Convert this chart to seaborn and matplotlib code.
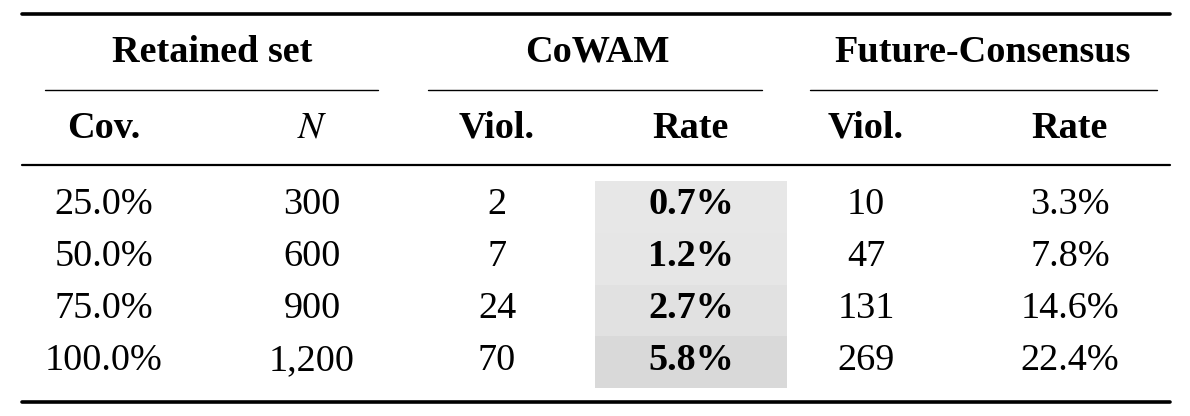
import matplotlib
matplotlib.use("Agg")
import matplotlib.pyplot as plt
import seaborn as sns
from matplotlib.patches import Rectangle

sns.set_theme(style="white")
plt.rcParams['font.family'] = ['Liberation Serif', 'DejaVu Serif']
plt.rcParams['mathtext.fontset'] = 'stix'
plt.rcParams['text.color'] = 'black'

coverage = ["25.0%", "50.0%", "75.0%", "100.0%"]
n_retained = ["300", "600", "900", "1,200"]
cowam_viol = [2, 7, 24, 70]
cowam_rate = [0.7, 1.2, 2.7, 5.8]
fc_viol = [10, 47, 131, 269]
fc_rate = [3.3, 7.8, 14.6, 22.4]
groups = ["Retained set", "CoWAM", "Future-Consensus"]

fig = plt.figure(figsize=(11.9, 4.16), dpi=100)
ax = fig.add_axes([0, 0, 1, 1])
ax.set_xlim(0, 1190); ax.set_ylim(416, 0); ax.axis("off")

fs = 27.5
ax.plot([22, 1170], [14, 14], color="black", lw=2.6)
ax.plot([22, 1170], [165, 165], color="black", lw=1.6)
ax.plot([22, 1170], [402, 402], color="black", lw=2.6)
for x0, x1 in [(45, 378), (428, 762), (810, 1157)]:
    ax.plot([x0, x1], [90, 90], color="black", lw=1.0)

for g, x in zip(groups, [212, 597, 983]):
    ax.text(x, 52, g, ha="center", va="center", fontsize=fs, fontweight="bold")

cols = [104, 312, 497, 691, 866, 1070]
heads = ["Cov.", "$N$", "Viol.", "Rate", "Viol.", "Rate"]
for h, x in zip(heads, cols):
    ax.text(x, 128, h, ha="center", va="center", fontsize=fs,
            fontweight="bold" if h != "$N$" else "normal")

cmap = sns.light_palette("#b0b0b0", as_cmap=True)
top = 181
for i in range(4):
    frac = 0.12 + 0.25 * cowam_rate[i] / max(cowam_rate)
    ax.add_patch(Rectangle((595, top + i * 51.75), 192, 51.75, color=cmap(frac), lw=0))
for i, y in enumerate([205, 257, 309, 361]):
    vals = [coverage[i], n_retained[i], str(cowam_viol[i]),
            f"{cowam_rate[i]:.1f}%", str(fc_viol[i]), f"{fc_rate[i]:.1f}%"]
    for j, (v, x) in enumerate(zip(vals, cols)):
        ax.text(x, y, v, ha="center", va="center", fontsize=fs,
                fontweight="bold" if j == 3 else "normal")

fig.savefig("out.png", dpi=100)
